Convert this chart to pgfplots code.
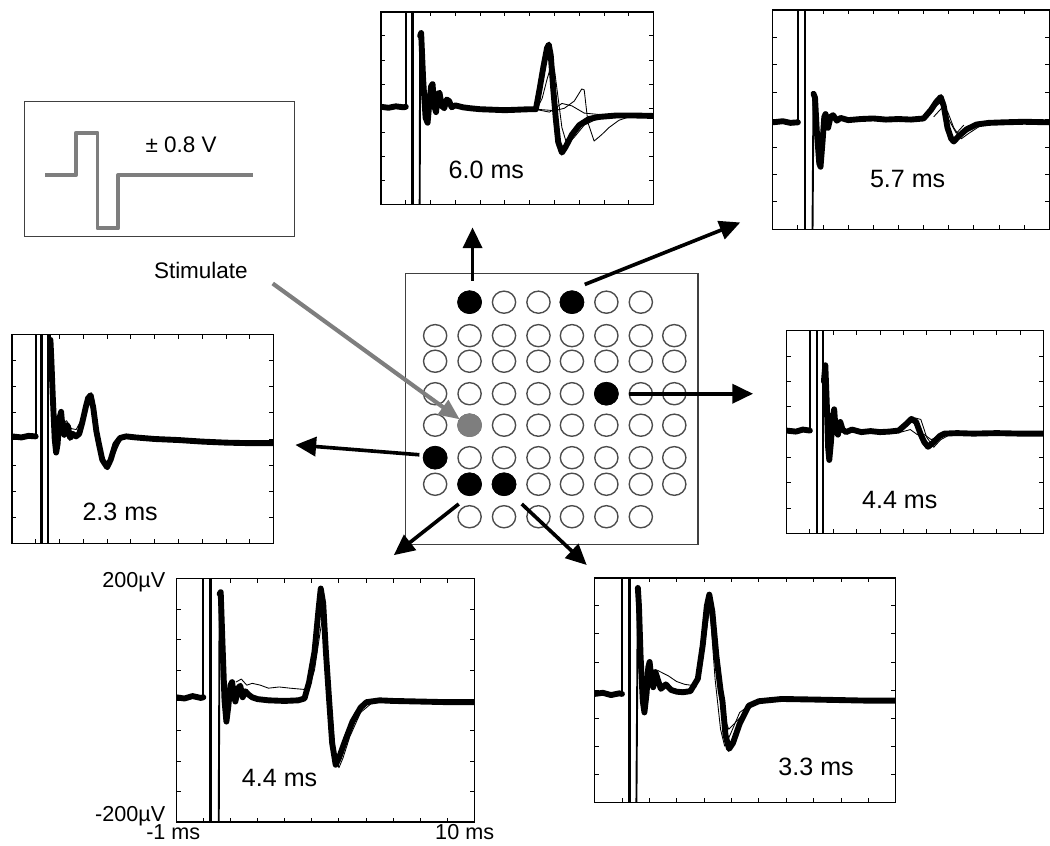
\documentclass[border=0pt]{standalone}
\usepackage{fontspec}
\setmainfont{Liberation Sans}
\usepackage{pgfplots}
\pgfplotsset{compat=1.18}
\usetikzlibrary{arrows.meta}
\definecolor{stimgray}{HTML}{7E7E7E}
\pgfplotsset{
 panel/.style={scale only axis, anchor=north west, xmin=-1, xmax=10, ymin=-200, ymax=200,
   xtick={0,1,...,9}, ytick={-150,-100,...,150}, xticklabels={}, yticklabels={},
   tick align=inside, major tick length=2.5pt, tick style={black, line width=0.5pt},
   axis line style={black, line width=0.8pt}, clip=true},
 bundle/.style={black, line width=3.4pt, line join=round, line cap=round, no markers},
 thinv/.style={black, line width=0.5pt, no markers, line join=round},
 art/.style={black, line width=1.1pt, no markers},
}
\begin{document}
\begin{tikzpicture}
\begin{scope}[x=0.02cm, y=-0.02cm]
 \useasboundingbox (0,0) rectangle (1050,850);
 \coordinate (TC) at (383,12);
 \coordinate (TR) at (781,10);
 \coordinate (L) at (8,340);
 \coordinate (R) at (795,336);
 \coordinate (BL) at (175,588);
 \coordinate (BR) at (600,587);
 \coordinate (ST) at (21,103);
 \coordinate (GR) at (408,278);
\end{scope}

% ---------------- stimulus waveform box
\begin{axis}[scale only axis, anchor=north west, at={(ST)}, width=5.48cm, height=2.74cm,
  xmin=0, xmax=274, ymin=0, ymax=137, y dir=reverse, xtick=\empty, ytick=\empty,
  axis line style={black!75, line width=0.7pt}]
 \addplot[stimgray, line width=2.3pt, line join=round, no markers] coordinates
  {(21,75) (52,75) (52,32) (74,32) (74,129) (95,129) (95,75) (232,75)};
\end{axis}

% ---------------- electrode grid
\begin{axis}[scale only axis, anchor=north west, at={(GR)}, width=5.94cm, height=5.5cm,
  xmin=408, xmax=705, ymin=278, ymax=553, y dir=reverse, xtick=\empty, ytick=\empty,
  axis line style={black!75, line width=0.7pt}, clip=false]
 \addplot[only marks, mark=o, mark size=6.4pt, mark options={line width=0.8pt, draw=black!70, xscale=1.05}] table {
x y
473 307
508 307
543 307
577 307
612 307
647 307
438 341
473 341
508 341
543 341
577 341
612 341
647 341
681 341
438 367
473 367
508 367
543 367
577 367
612 367
647 367
681 367
438 400
473 400
508 400
543 400
577 400
612 400
647 400
681 400
438 432
473 432
508 432
543 432
577 432
612 432
647 432
681 432
438 465
473 465
508 465
543 465
577 465
612 465
647 465
681 465
438 492
473 492
508 492
543 492
577 492
612 492
647 492
681 492
473 525
508 525
543 525
577 525
612 525
647 525
};
 \addplot[only marks, mark=*, mark size=6.6pt, mark options={fill=black, draw=black, xscale=1.05}] table {
x y
473 307
577 307
612 400
438 465
473 492
508 492
};
 \addplot[only marks, mark=*, mark size=6.6pt, mark options={fill=stimgray, draw=stimgray, xscale=1.05}] table {
x y
473 432
};
\end{axis}

% ---------------- top centre panel (6.0 ms)
\begin{axis}[panel, at={(TC)}, width=5.54cm, height=3.92cm]
 \addplot[bundle] coordinates {(-1,3) (-0.7,1) (-0.4,4) (-0.1,2) (0,3)};
 \addplot[art] coordinates {(0,3) (0,400)};
 \addplot[art] coordinates {(0.25,400) (0.25,-400)};
 \addplot[art] coordinates {(0.30,400) (0.30,-400)};
 \addplot[art] coordinates {(0.55,-400) (0.58,150)};
 \addplot[bundle] coordinates {(0.58,150) (0.62,156) (0.70,60) (0.80,-20) (0.88,-30) (0.95,10) (1.02,45) (1.08,50) (1.15,5) (1.22,-8) (1.30,30) (1.36,32) (1.45,5) (1.55,0) (1.65,18) (1.75,15) (1.85,2) (2.0,6) (2.3,2) (2.6,0) (3.0,-2) (3.5,-3) (4.0,-4) (4.5,-3) (5.0,-2) (5.25,-2) (5.4,40) (5.55,85) (5.7,125) (5.77,132) (5.85,110) (5.95,40) (6.05,-20) (6.15,-70) (6.3,-92) (6.45,-80) (6.7,-55) (7.0,-35) (7.4,-22) (7.8,-18) (8.5,-15) (9.2,-15) (10,-16)};
 \addplot[thinv] coordinates {(5.2,-2) (5.5,-3) (6.0,-5) (6.4,0) (6.8,15) (7.1,40) (7.2,38) (7.35,-30) (7.6,-68) (7.9,-55) (8.2,-40) (8.6,-25) (9,-18) (10,-15)};
 \addplot[thinv] coordinates {(5.3,0) (5.5,20) (5.7,60) (5.9,95) (6.0,80) (6.15,20) (6.3,-40) (6.5,-75) (6.8,-60) (7.2,-35) (7.8,-20) (10,-15)};
 \addplot[thinv] coordinates {(5.3,-3) (5.8,-8) (6.3,10) (6.7,5) (7.2,-10) (8,-14)};
\end{axis}

% ---------------- top right panel (5.7 ms)
\begin{axis}[panel, at={(TR)}, width=5.62cm, height=4.46cm]
 \addplot[bundle] coordinates {(-1,-5) (-0.6,-3) (-0.3,-6) (0,-5)};
 \addplot[art] coordinates {(0,-5) (0,400)};
 \addplot[art] coordinates {(0.27,400) (0.27,-400)};
 \addplot[art] coordinates {(0.55,-400) (0.62,47)};
 \addplot[bundle] coordinates {(0.62,47) (0.68,40) (0.75,-20) (0.85,-80) (0.9,-86) (0.98,-40) (1.05,5) (1.1,10) (1.2,-15) (1.3,5) (1.4,8) (1.55,-2) (1.7,3) (2.0,-1) (2.5,1) (3.0,2) (3.5,0) (4.0,1) (4.5,0) (5.0,2) (5.3,18) (5.5,32) (5.68,41) (5.8,25) (5.95,-15) (6.1,-35) (6.2,-40) (6.4,-30) (6.7,-18) (7.1,-9) (7.6,-6) (8.2,-5) (9,-4) (10,-5)};
 \addplot[thinv] coordinates {(5.4,5) (5.7,20) (5.95,15) (6.2,-15) (6.5,-35) (6.8,-25) (7.3,-10)};
 \addplot[thinv] coordinates {(5.5,25) (5.8,35) (6.0,0) (6.3,-25) (6.6,-10)};
\end{axis}

% ---------------- left panel (2.3 ms)
\begin{axis}[panel, at={(L)}, width=5.32cm, height=4.24cm]
 \addplot[bundle] coordinates {(-1,5) (-0.6,3) (-0.3,6) (0,5)};
 \addplot[art] coordinates {(0,5) (0,400)};
 \addplot[art] coordinates {(0.22,400) (0.22,-400)};
 \addplot[art] coordinates {(0.28,400) (0.28,-400)};
 \addplot[art] coordinates {(0.5,-400) (0.5,400)};
 \addplot[art] coordinates {(0.62,400) (0.62,190)};
 \addplot[bundle] coordinates {(0.62,190) (0.66,150) (0.72,80) (0.80,0) (0.86,-26) (0.92,-10) (1.0,40) (1.07,52) (1.12,25) (1.2,8) (1.28,27) (1.35,25) (1.45,2) (1.55,10) (1.7,5) (1.83,10) (1.95,30) (2.1,60) (2.2,78) (2.31,84) (2.42,60) (2.55,15) (2.66,-10) (2.8,-40) (3.0,-54) (3.15,-40) (3.35,-10) (3.55,2) (3.8,5) (4.2,3) (5,0) (6,-2) (7,-5) (8,-7) (9,-8) (10,-8)};
 \addplot[thinv] coordinates {(1.1,30) (1.3,35) (1.5,20) (1.7,18) (1.9,35) (2.1,65) (2.25,80) (2.4,50) (2.6,0) (2.85,-45) (3.05,-58) (3.3,-30) (3.6,0) (4,5)};
\end{axis}

% ---------------- right panel (4.4 ms)
\begin{axis}[panel, at={(R)}, width=5.22cm, height=4.12cm]
 \addplot[bundle] coordinates {(-1,3) (-0.6,1) (-0.3,5) (0,3)};
 \addplot[art] coordinates {(0,3) (0,400)};
 \addplot[art] coordinates {(0.3,400) (0.3,-400)};
 \addplot[art] coordinates {(0.55,-400) (0.55,400)};
 \addplot[bundle] coordinates {(0.6,100) (0.66,132) (0.72,60) (0.78,-30) (0.83,-55) (0.9,-20) (0.98,30) (1.04,45) (1.1,5) (1.2,-5) (1.3,20) (1.4,5) (1.55,0) (1.8,5) (2.2,0) (2.6,2) (3.0,0) (3.4,1) (3.8,3) (4.1,15) (4.35,26) (4.55,20) (4.75,-5) (4.9,-20) (5.06,-29) (5.3,-20) (5.55,-8) (5.76,-3) (6.3,-2) (7,-3) (8,-2) (9,-3) (10,-3)};
 \addplot[thinv] coordinates {(3.8,5) (4.2,20) (4.5,28) (4.75,25) (5.0,-10) (5.3,-30) (5.6,-15) (6,-5)};
 \addplot[thinv] coordinates {(3.9,0) (4.3,5) (4.6,-5) (4.9,-5) (5.2,-15) (5.6,-5)};
\end{axis}

% ---------------- bottom left panel (4.4 ms)
\begin{axis}[panel, at={(BL)}, width=6.06cm, height=4.94cm]
 \addplot[bundle] coordinates {(-1,5) (-0.7,3) (-0.4,7) (-0.1,4) (0,5)};
 \addplot[art] coordinates {(0,5) (0,400)};
 \addplot[art] coordinates {(0.25,400) (0.25,-400)};
 \addplot[art] coordinates {(0.3,400) (0.3,-400)};
 \addplot[art] coordinates {(0.55,-400) (0.6,175)};
 \addplot[bundle] coordinates {(0.6,175) (0.64,178) (0.7,100) (0.78,0) (0.85,-35) (0.92,-10) (1.0,25) (1.06,30) (1.12,10) (1.18,-2) (1.28,20) (1.36,24) (1.45,5) (1.55,15) (1.65,10) (1.8,5) (2.0,2) (2.4,0) (3.0,-1) (3.5,0) (3.73,3) (3.9,30) (4.1,80) (4.25,150) (4.33,184) (4.42,160) (4.52,80) (4.64,0) (4.75,-70) (4.88,-106) (5.0,-95) (5.2,-70) (5.5,-35) (5.8,-12) (6.02,-3) (6.5,0) (7,-1) (8,-2) (9,-3) (10,-3)};
 \addplot[thinv] coordinates {(1.2,30) (1.4,35) (1.6,25) (1.8,28) (2.1,25) (2.4,20) (2.8,22) (3.2,20) (3.7,18) (3.9,20) (4.1,50) (4.3,110) (4.45,150) (4.55,90) (4.7,0) (4.85,-80) (5.0,-111) (5.15,-95) (5.4,-60) (5.8,-20) (6.2,-5)};
 \addplot[thinv] coordinates {(3.8,2) (4.0,40) (4.2,120) (4.35,170) (4.48,110) (4.62,20) (4.78,-90) (4.93,-105) (5.2,-60) (5.6,-20) (6,-5)};
\end{axis}

% ---------------- bottom right panel (3.3 ms)
\begin{axis}[panel, at={(BR)}, width=6.12cm, height=4.56cm]
 \addplot[bundle] coordinates {(-1,-7) (-0.7,-5) (-0.4,-9) (-0.1,-6) (0,-7)};
 \addplot[art] coordinates {(0,-7) (0,400)};
 \addplot[art] coordinates {(0.25,400) (0.25,-400)};
 \addplot[art] coordinates {(0.3,400) (0.3,-400)};
 \addplot[art] coordinates {(0.5,-400) (0.58,182)};
 \addplot[bundle] coordinates {(0.58,182) (0.62,150) (0.68,60) (0.76,-20) (0.82,-40) (0.9,-5) (0.96,40) (1.01,50) (1.08,15) (1.14,5) (1.22,32) (1.3,20) (1.42,2) (1.6,10) (1.8,0) (2.0,-3) (2.23,-4) (2.5,-2) (2.77,20) (2.95,80) (3.1,150) (3.19,170) (3.3,140) (3.45,60) (3.6,0) (3.67,-20) (3.78,-80) (3.91,-105) (4.05,-95) (4.3,-60) (4.63,-28) (5.0,-20) (5.83,-16) (7,-17) (8,-18) (9,-19) (10,-19)};
 \addplot[thinv] coordinates {(1.3,35) (1.5,30) (1.7,25) (2.0,15) (2.3,10) (2.6,8) (2.9,40) (3.1,110) (3.25,165) (3.4,120) (3.55,40) (3.75,-50) (3.9,-70) (4.1,-60) (4.4,-45) (4.8,-25) (5.3,-18)};
 \addplot[thinv] coordinates {(2.7,5) (2.9,60) (3.05,140) (3.15,160) (3.25,120) (3.4,20) (3.6,-70) (3.75,-100) (3.95,-80) (4.3,-40) (4.8,-22)};
\end{axis}

% ---------------- annotations
\begin{scope}[x=0.02cm, y=-0.02cm]
 \tikzset{bigarrow/.style={line width=2.1pt, -{Triangle[length=12pt, width=11pt]}}}
 \draw[bigarrow] (476,285) -- (476,231);
 \draw[bigarrow] (590,289) -- (748,226);
 \draw[bigarrow] (635,400) -- (761,400);
 \draw[bigarrow] (422,462) -- (296,452);
 \draw[bigarrow] (462,512) -- (396,564);
 \draw[bigarrow] (526,512) -- (592,574);
 \draw[stimgray, line width=2.4pt, -{Triangle[length=12pt, width=10pt]}] (273,288) -- (463,426);
 \node[font=\fontsize{13}{15}\selectfont] at (180,147) {± 0.8 V};
 \node[font=\fontsize{13}{15}\selectfont] at (200,275) {Stimulate};
 \node[font=\fontsize{14.5}{16}\selectfont] at (490,173) {6.0 ms};
 \node[font=\fontsize{14.5}{16}\selectfont] at (918,182) {5.7 ms};
 \node[font=\fontsize{14.5}{16}\selectfont] at (118,520) {2.3 ms};
 \node[font=\fontsize{14.5}{16}\selectfont] at (910,508) {4.4 ms};
 \node[font=\fontsize{14.5}{16}\selectfont] at (280,790) {4.4 ms};
 \node[font=\fontsize{14.5}{16}\selectfont] at (825,779) {3.3 ms};
 \node[font=\fontsize{12.5}{14}\selectfont, anchor=east] at (170,591) {200µV};
 \node[font=\fontsize{12.5}{14}\selectfont, anchor=east] at (170,829) {-200µV};
 \node[font=\fontsize{12.5}{14}\selectfont] at (172,845) {-1 ms};
 \node[font=\fontsize{12.5}{14}\selectfont] at (468,845) {10 ms};
\end{scope}
\end{tikzpicture}
\end{document}
